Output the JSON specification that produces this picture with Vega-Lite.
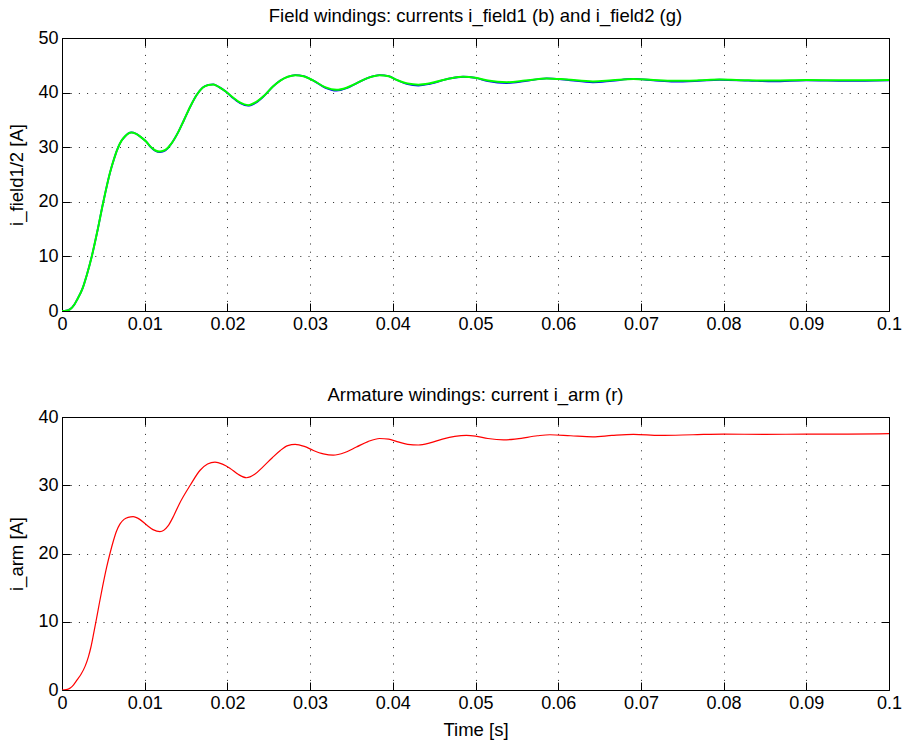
{
  "$schema": "https://vega.github.io/schema/vega-lite/v6.json",
  "padding": {"left": 7, "top": 6, "right": 5, "bottom": 5},
  "background": "white",
  "spacing": 106,
  "bounds": "flush",
  "config": {
    "font": "Liberation Sans",
    "view": {"stroke": "#000", "strokeWidth": 1},
    "title": {"fontSize": 18.5, "fontWeight": "normal", "color": "#000", "anchor": "middle", "offset": 0, "font": "Liberation Sans"},
    "axis": {
      "labelFont": "Liberation Sans", "titleFont": "Liberation Sans",
      "labelFontSize": 18, "titleFontSize": 18.5, "titleFontWeight": "normal",
      "labelColor": "#000", "titleColor": "#000",
      "domain": false, "tickSize": -8, "tickColor": "#000", "tickWidth": 1,
      "gridColor": "#000", "gridOpacity": 0.85, "gridWidth": 1, "gridDash": [1, 7.2],
      "labelFlush": false, "labelOverlap": false
    },
    "axisX": {"labelPadding": 12, "titlePadding": 8},
    "axisY": {"labelPadding": 12, "titlePadding": 11}
  },
  "datasets": {
    "field": [
      {"t": 0, "f1": 0, "f2": 0},
      {"t": 0.0005, "f1": 0.05, "f2": 0.05},
      {"t": 0.001, "f1": 0.35, "f2": 0.35},
      {"t": 0.0015, "f1": 1.2, "f2": 1.2},
      {"t": 0.0018, "f1": 2.0, "f2": 2.0},
      {"t": 0.0025, "f1": 4.2, "f2": 4.2},
      {"t": 0.003, "f1": 6.6, "f2": 6.6},
      {"t": 0.0036, "f1": 10.0, "f2": 10.0},
      {"t": 0.0043, "f1": 14.8, "f2": 14.8},
      {"t": 0.005, "f1": 20.0, "f2": 20.0},
      {"t": 0.0058, "f1": 25.3, "f2": 25.3},
      {"t": 0.0063, "f1": 27.9, "f2": 27.9},
      {"t": 0.0068, "f1": 30.0, "f2": 30.0},
      {"t": 0.0072, "f1": 31.2, "f2": 31.2},
      {"t": 0.0076, "f1": 31.95, "f2": 31.95},
      {"t": 0.008, "f1": 32.5, "f2": 32.5},
      {"t": 0.0084, "f1": 32.7, "f2": 32.7},
      {"t": 0.0089, "f1": 32.5, "f2": 32.5},
      {"t": 0.0095, "f1": 31.9, "f2": 31.9},
      {"t": 0.0102, "f1": 31.0, "f2": 31.0},
      {"t": 0.0107, "f1": 30.05, "f2": 30.1},
      {"t": 0.0113, "f1": 29.3, "f2": 29.4},
      {"t": 0.01185, "f1": 29.1, "f2": 29.2},
      {"t": 0.0125, "f1": 29.4, "f2": 29.5},
      {"t": 0.0132, "f1": 30.6, "f2": 30.6},
      {"t": 0.0141, "f1": 32.9, "f2": 32.9},
      {"t": 0.0147, "f1": 34.8, "f2": 34.8},
      {"t": 0.0155, "f1": 37.4, "f2": 37.4},
      {"t": 0.0163, "f1": 39.6, "f2": 39.6},
      {"t": 0.017, "f1": 40.9, "f2": 40.9},
      {"t": 0.0177, "f1": 41.4, "f2": 41.4},
      {"t": 0.0183, "f1": 41.5, "f2": 41.5},
      {"t": 0.019, "f1": 41.0, "f2": 41.0},
      {"t": 0.0198, "f1": 40.2, "f2": 40.2},
      {"t": 0.0206, "f1": 39.1, "f2": 39.2},
      {"t": 0.0215, "f1": 38.1, "f2": 38.2},
      {"t": 0.0225, "f1": 37.6, "f2": 37.7},
      {"t": 0.0235, "f1": 38.2, "f2": 38.3},
      {"t": 0.0245, "f1": 39.5, "f2": 39.5},
      {"t": 0.0255, "f1": 41.1, "f2": 41.1},
      {"t": 0.0264, "f1": 42.2, "f2": 42.2},
      {"t": 0.0273, "f1": 42.9, "f2": 42.9},
      {"t": 0.0282, "f1": 43.2, "f2": 43.2},
      {"t": 0.0292, "f1": 43.0, "f2": 43.0},
      {"t": 0.0304, "f1": 42.2, "f2": 42.2},
      {"t": 0.0318, "f1": 40.9, "f2": 41.0},
      {"t": 0.0332, "f1": 40.35, "f2": 40.5},
      {"t": 0.0344, "f1": 40.8, "f2": 40.9},
      {"t": 0.0356, "f1": 41.7, "f2": 41.7},
      {"t": 0.037, "f1": 42.7, "f2": 42.7},
      {"t": 0.0384, "f1": 43.2, "f2": 43.2},
      {"t": 0.0395, "f1": 43.0, "f2": 43.0},
      {"t": 0.0405, "f1": 42.3, "f2": 42.3},
      {"t": 0.0418, "f1": 41.55, "f2": 41.65},
      {"t": 0.0431, "f1": 41.3, "f2": 41.45},
      {"t": 0.0445, "f1": 41.6, "f2": 41.7},
      {"t": 0.0469, "f1": 42.6, "f2": 42.6},
      {"t": 0.0485, "f1": 42.9, "f2": 42.9},
      {"t": 0.05, "f1": 42.7, "f2": 42.7},
      {"t": 0.0515, "f1": 42.1, "f2": 42.2},
      {"t": 0.0538, "f1": 41.75, "f2": 41.9},
      {"t": 0.056, "f1": 42.1, "f2": 42.2},
      {"t": 0.0586, "f1": 42.6, "f2": 42.6},
      {"t": 0.061, "f1": 42.35, "f2": 42.4},
      {"t": 0.0642, "f1": 41.9, "f2": 42.05},
      {"t": 0.0665, "f1": 42.15, "f2": 42.25},
      {"t": 0.0691, "f1": 42.5, "f2": 42.5},
      {"t": 0.0715, "f1": 42.25, "f2": 42.3},
      {"t": 0.074, "f1": 42.0, "f2": 42.15},
      {"t": 0.077, "f1": 42.15, "f2": 42.25},
      {"t": 0.0795, "f1": 42.35, "f2": 42.4},
      {"t": 0.083, "f1": 42.2, "f2": 42.25},
      {"t": 0.086, "f1": 42.05, "f2": 42.2},
      {"t": 0.09, "f1": 42.25, "f2": 42.3},
      {"t": 0.095, "f1": 42.15, "f2": 42.25},
      {"t": 0.1, "f1": 42.25, "f2": 42.3}
    ],
    "arm": [
      {"t": 0, "a": 0},
      {"t": 0.0005, "a": 0.05},
      {"t": 0.001, "a": 0.3},
      {"t": 0.0014, "a": 0.75},
      {"t": 0.0018, "a": 1.45},
      {"t": 0.0023, "a": 2.3},
      {"t": 0.0028, "a": 3.5},
      {"t": 0.0032, "a": 4.9},
      {"t": 0.0035, "a": 6.3},
      {"t": 0.0038, "a": 8.1},
      {"t": 0.0041, "a": 10.0},
      {"t": 0.0045, "a": 12.6},
      {"t": 0.0049, "a": 15.1},
      {"t": 0.0054, "a": 18.0},
      {"t": 0.0058, "a": 20.0},
      {"t": 0.0062, "a": 21.8},
      {"t": 0.0066, "a": 23.3},
      {"t": 0.007, "a": 24.3},
      {"t": 0.0075, "a": 25.0},
      {"t": 0.008, "a": 25.3},
      {"t": 0.0086, "a": 25.4},
      {"t": 0.0094, "a": 25.0},
      {"t": 0.0102, "a": 24.2},
      {"t": 0.011, "a": 23.5},
      {"t": 0.01185, "a": 23.2},
      {"t": 0.0128, "a": 24.0},
      {"t": 0.0135, "a": 25.5},
      {"t": 0.0142, "a": 27.3},
      {"t": 0.0155, "a": 30.0},
      {"t": 0.0167, "a": 32.2},
      {"t": 0.0176, "a": 33.1},
      {"t": 0.0185, "a": 33.4},
      {"t": 0.0194, "a": 33.1},
      {"t": 0.0203, "a": 32.5},
      {"t": 0.0213, "a": 31.6},
      {"t": 0.0223, "a": 31.1},
      {"t": 0.0233, "a": 31.6},
      {"t": 0.0243, "a": 32.7},
      {"t": 0.0254, "a": 34.0},
      {"t": 0.0264, "a": 35.1},
      {"t": 0.0273, "a": 35.8},
      {"t": 0.0282, "a": 36.0},
      {"t": 0.0293, "a": 35.7},
      {"t": 0.0304, "a": 35.1},
      {"t": 0.0316, "a": 34.6},
      {"t": 0.0328, "a": 34.4},
      {"t": 0.0342, "a": 34.8},
      {"t": 0.0356, "a": 35.6},
      {"t": 0.037, "a": 36.4},
      {"t": 0.0384, "a": 36.85},
      {"t": 0.0395, "a": 36.75},
      {"t": 0.0405, "a": 36.4},
      {"t": 0.0418, "a": 36.0},
      {"t": 0.0431, "a": 35.9},
      {"t": 0.0445, "a": 36.2},
      {"t": 0.046, "a": 36.75},
      {"t": 0.0475, "a": 37.15},
      {"t": 0.0489, "a": 37.3},
      {"t": 0.05, "a": 37.2},
      {"t": 0.0515, "a": 36.85},
      {"t": 0.0534, "a": 36.65},
      {"t": 0.055, "a": 36.8},
      {"t": 0.0575, "a": 37.25},
      {"t": 0.059, "a": 37.4},
      {"t": 0.0615, "a": 37.25},
      {"t": 0.0642, "a": 37.1},
      {"t": 0.0665, "a": 37.3},
      {"t": 0.0691, "a": 37.45},
      {"t": 0.0723, "a": 37.3},
      {"t": 0.0763, "a": 37.4},
      {"t": 0.08, "a": 37.5},
      {"t": 0.085, "a": 37.45},
      {"t": 0.09, "a": 37.5},
      {"t": 0.095, "a": 37.5},
      {"t": 0.1, "a": 37.55}
    ]
  },
  "vconcat": [
    {
      "width": 827, "height": 273,
      "title": "Field windings: currents i_field1 (b) and i_field2 (g)",
      "data": {"name": "field"},
      "layer": [
        {
          "mark": {"type": "line", "color": "#0000ff", "strokeWidth": 1.8, "interpolate": "monotone", "clip": true},
          "encoding": {
            "x": {"field": "t", "type": "quantitative", "scale": {"domain": [0, 0.1], "nice": false},
                  "axis": {"title": null, "values": [0, 0.01, 0.02, 0.03, 0.04, 0.05, 0.06, 0.07, 0.08, 0.09, 0.1], "format": "~g", "grid": true}},
            "y": {"field": "f1", "type": "quantitative", "scale": {"domain": [0, 50], "nice": false},
                  "axis": {"title": "i_field1/2 [A]", "values": [0, 10, 20, 30, 40, 50], "grid": true}}
          }
        },
        {
          "mark": {"type": "line", "color": "#00ff00", "strokeWidth": 2, "interpolate": "monotone", "clip": true},
          "encoding": {
            "x": {"field": "t", "type": "quantitative",
                  "axis": {"orient": "top", "title": null, "labels": false, "grid": false, "values": [0, 0.01, 0.02, 0.03, 0.04, 0.05, 0.06, 0.07, 0.08, 0.09, 0.1]}},
            "y": {"field": "f2", "type": "quantitative",
                  "axis": {"orient": "right", "title": null, "labels": false, "grid": false, "values": [0, 10, 20, 30, 40, 50]}}
          }
        }
      ],
      "resolve": {"axis": {"x": "independent", "y": "independent"}}
    },
    {
      "width": 827, "height": 273,
      "title": "Armature windings: current i_arm (r)",
      "data": {"name": "arm"},
      "layer": [
        {
          "mark": {"type": "line", "color": "#ff0000", "strokeWidth": 1.2, "interpolate": "monotone", "clip": true},
          "encoding": {
            "x": {"field": "t", "type": "quantitative", "scale": {"domain": [0, 0.1], "nice": false},
                  "axis": {"title": "Time [s]", "values": [0, 0.01, 0.02, 0.03, 0.04, 0.05, 0.06, 0.07, 0.08, 0.09, 0.1], "format": "~g", "grid": true}},
            "y": {"field": "a", "type": "quantitative", "scale": {"domain": [0, 40], "nice": false},
                  "axis": {"title": "i_arm [A]", "values": [0, 10, 20, 30, 40], "grid": true}}
          }
        },
        {
          "mark": {"type": "line", "color": "#ff0000", "strokeWidth": 1.2, "opacity": 0, "interpolate": "monotone", "clip": true},
          "encoding": {
            "x": {"field": "t", "type": "quantitative",
                  "axis": {"orient": "top", "title": null, "labels": false, "grid": false, "values": [0, 0.01, 0.02, 0.03, 0.04, 0.05, 0.06, 0.07, 0.08, 0.09, 0.1]}},
            "y": {"field": "a", "type": "quantitative",
                  "axis": {"orient": "right", "title": null, "labels": false, "grid": false, "values": [0, 10, 20, 30, 40]}}
          }
        }
      ],
      "resolve": {"axis": {"x": "independent", "y": "independent"}}
    }
  ]
}
